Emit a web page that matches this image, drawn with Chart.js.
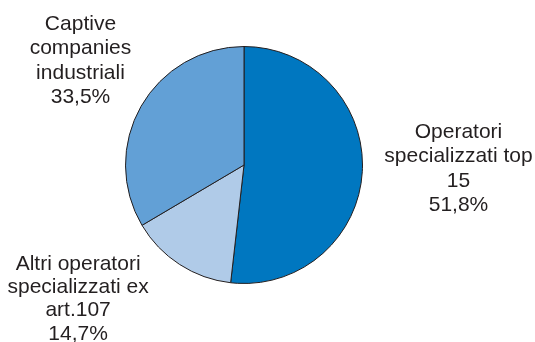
<!DOCTYPE html>
<html>
<head>
<meta charset="utf-8">
<script src="https://cdn.jsdelivr.net/npm/chart.js@4"></script>
<style>
  html, body { margin: 0; padding: 0; background: #fff; }
  #wrap { width: 535px; height: 342px; }
</style>
</head>
<body>
<div id="wrap"><canvas id="torta"></canvas></div>
<script>
// categorie e valori (%)
const categorie = [
    ['Operatori', 'specializzati top', '15'],
    ['Altri operatori', 'specializzati ex', 'art.107'],
    ['Captive', 'companies', 'industriali']
];
const valori = [51.8, 14.7, 33.5];
const etichettePerc = ['51,8%', '14,7%', '33,5%'];
const colori = ['#0077c0', '#b0cbe8', '#62a0d6'];

// spostamento delle etichette rispetto al centro della torta (in raggi) e interlinea
const posEtichette = [
    { dx: 1.81, dy: 0.03, lh: 24.3 },
    { dx: -1.40, dy: 1.13, lh: 23.4 },
    { dx: -1.38, dy: -0.88, lh: 24.3 }
];

const etichettePlugin = {
    id: 'etichette',
    afterDraw(chart) {
        const ctx = chart.ctx;
        const arcs = chart.getDatasetMeta(0).data;
        ctx.save();
        ctx.font = '21px "Liberation Sans", Arial, sans-serif';
        ctx.fillStyle = '#231f20';
        ctx.textAlign = 'center';
        ctx.textBaseline = 'middle';
        arcs.forEach((arc, i) => {
            const r = arc.outerRadius;
            const p = posEtichette[i];
            const cx = arc.x + p.dx * r;
            const cy = arc.y + p.dy * r;
            const righe = categorie[i].concat([etichettePerc[i]]);
            const y0 = cy - (righe.length - 1) * p.lh / 2;
            righe.forEach((t, j) => ctx.fillText(t, cx, y0 + j * p.lh));
        });
        ctx.restore();
    }
};

const ctx = document.getElementById('torta').getContext('2d');
new Chart(ctx, {
    type: 'pie',
    data: {
        labels: categorie.map(c => c.join(' ')),
        datasets: [{
            data: valori,
            backgroundColor: colori,
            borderColor: '#231f20',
            borderWidth: 1
        }]
    },
    options: {
        responsive: true,
        maintainAspectRatio: false,
        animation: false,
        layout: { padding: { left: 125, right: 172, top: 46, bottom: 58 } },
        plugins: {
            legend: { display: false },
            tooltip: { enabled: false }
        }
    },
    plugins: [etichettePlugin]
});
</script>
</body>
</html>
